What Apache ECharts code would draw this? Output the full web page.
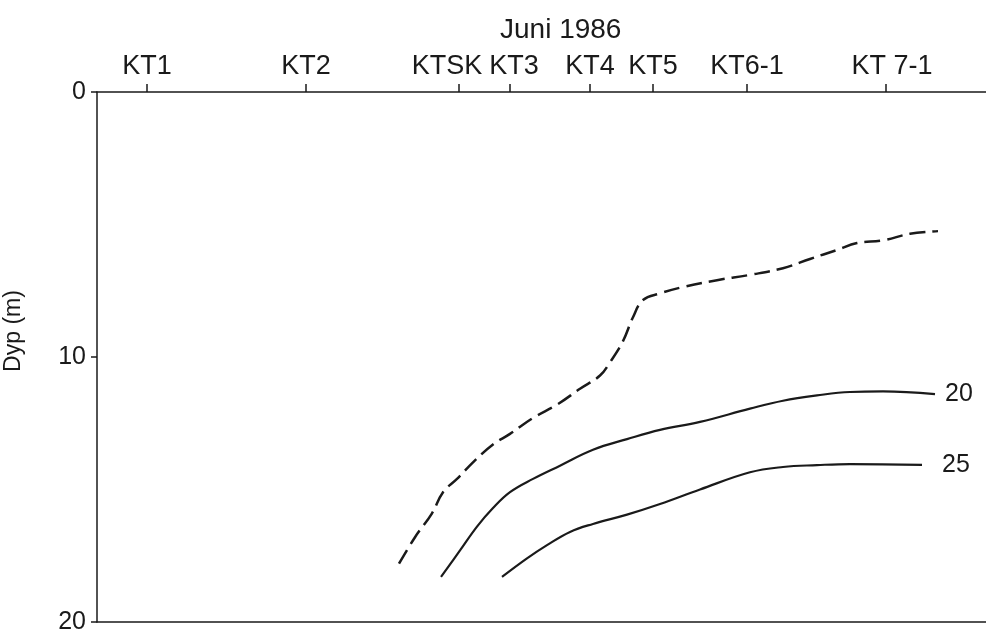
<!DOCTYPE html>
<html lang="en">
<head>
    <meta charset="UTF-8">
    <title>Juni 1986</title>
    <script src="https://cdn.jsdelivr.net/npm/echarts@6/dist/echarts.min.js"></script>
    <style>
        html, body { margin: 0; padding: 0; background: #fff; }
        #main { width: 986px; height: 631px; }
    </style>
</head>
<body>
    <div id="main"></div>
    <script>
        // station positions along the section (distance units along the top axis)
        var stationNames = ['KT1', 'KT2', 'KTSK', 'KT3', 'KT4', 'KT5', 'KT6-1', 'KT 7-1'];
        var stationPos = [5.0, 20.9, 36.2, 41.3, 49.3, 55.6, 65.0, 78.9];

        // dashed curve (no label)
        var dashedX = [30.2, 31.8, 33.5, 34.6, 36.0, 37.8, 39.6, 41.3, 43.6, 46.0, 48.3, 50.3, 51.3, 52.6, 53.6, 54.6, 56.3, 58.6, 62.0, 65.3, 68.6, 71.3, 74.0, 76.0, 78.6, 81.3, 84.1];
        var dashedDepth = [17.8, 16.8, 15.9, 15.1, 14.6, 13.9, 13.3, 12.9, 12.3, 11.8, 11.2, 10.7, 10.2, 9.4, 8.5, 7.85, 7.6, 7.36, 7.1, 6.9, 6.65, 6.3, 5.96, 5.7, 5.6, 5.35, 5.25];

        // curve "20"
        var line20X = [34.4, 36.3, 38.0, 39.6, 41.3, 43.6, 46.3, 49.6, 53.0, 56.3, 60.3, 65.3, 68.6, 72.0, 75.3, 78.6, 83.8];
        var line20Depth = [18.3, 17.3, 16.4, 15.7, 15.1, 14.6, 14.1, 13.5, 13.1, 12.75, 12.45, 11.95, 11.65, 11.45, 11.32, 11.3, 11.4];

        // curve "25"
        var line25X = [40.5, 43.0, 45.0, 47.3, 49.6, 53.0, 56.3, 60.3, 65.3, 68.6, 72.0, 75.3, 82.5];
        var line25Depth = [18.3, 17.6, 17.1, 16.6, 16.3, 15.95, 15.55, 15.0, 14.35, 14.15, 14.08, 14.04, 14.07];

        function pairs(xs, ys) {
            return xs.map(function (x, i) { return [x, ys[i]]; });
        }

        var font = 'Liberation Sans';
        var ink = '#1a1a1a';

        // some station labels sit a little off their tick
        var labelStyle = {
            'KTSK': 'l',
            'KT3': 'r1',
            'KT 7-1': 'r'
        };

        var chart = echarts.init(document.getElementById('main'));

        chart.setOption({
            animation: false,
            title: {
                text: 'Juni 1986',
                left: 495,
                top: 11,
                textStyle: { fontFamily: font, fontSize: 28, fontWeight: 'normal', color: ink }
            },
            grid: { left: 97, right: 0, top: 92, bottom: 9, outerBoundsMode: 'none' },
            xAxis: [{
                type: 'value',
                position: 'top',
                min: 0,
                max: 88.9,
                splitLine: { show: false },
                axisLine: { lineStyle: { color: ink, width: 1.5 } },
                axisTick: {
                    customValues: stationPos,
                    length: 8,
                    lineStyle: { color: ink, width: 1.5 }
                },
                axisLabel: {
                    customValues: stationPos,
                    margin: 12,
                    fontFamily: font,
                    fontSize: 27,
                    color: ink,
                    formatter: function (v) {
                        var i = stationPos.indexOf(v);
                        if (i < 0) return '';
                        var name = stationNames[i];
                        return labelStyle[name] ? '{' + labelStyle[name] + '|' + name + '}' : name;
                    },
                    rich: {
                        l: { fontFamily: font, fontSize: 27, color: ink, padding: [0, 24, 0, 0] },
                        r1: { fontFamily: font, fontSize: 27, color: ink, padding: [0, 0, 0, 8] },
                        r: { fontFamily: font, fontSize: 27, color: ink, padding: [0, 0, 0, 12] }
                    }
                }
            }, {
                type: 'value',
                position: 'bottom',
                min: 0,
                max: 88.9,
                splitLine: { show: false },
                axisLine: { lineStyle: { color: ink, width: 1.5 } },
                axisTick: { show: false },
                axisLabel: { show: false }
            }],
            yAxis: {
                type: 'value',
                inverse: true,
                min: 0,
                max: 20,
                interval: 10,
                name: 'Dyp (m)',
                nameLocation: 'middle',
                nameGap: 72,
                nameTextStyle: { fontFamily: font, fontSize: 23, color: ink, padding: [0, 0, 0, 52] },
                splitLine: { show: false },
                axisLine: { lineStyle: { color: ink, width: 1.5 } },
                axisTick: { length: 6, lineStyle: { color: ink, width: 1.5 } },
                axisLabel: { margin: 11, fontFamily: font, fontSize: 25, color: ink }
            },
            series: [{
                type: 'line',
                data: pairs(dashedX, dashedDepth),
                smooth: 0.4,
                showSymbol: false,
                lineStyle: { color: ink, width: 2.5, type: [16, 7] }
            }, {
                type: 'line',
                data: pairs(line20X, line20Depth),
                smooth: 0.4,
                showSymbol: false,
                lineStyle: { color: ink, width: 2.2 },
                endLabel: {
                    show: true,
                    formatter: '20',
                    distance: 10,
                    fontFamily: font,
                    fontSize: 25,
                    color: ink
                }
            }, {
                type: 'line',
                data: pairs(line25X, line25Depth),
                smooth: 0.4,
                showSymbol: false,
                lineStyle: { color: ink, width: 2.2 },
                endLabel: {
                    show: true,
                    formatter: '25',
                    distance: 20,
                    fontFamily: font,
                    fontSize: 25,
                    color: ink
                }
            }]
        });
    </script>
</body>
</html>
